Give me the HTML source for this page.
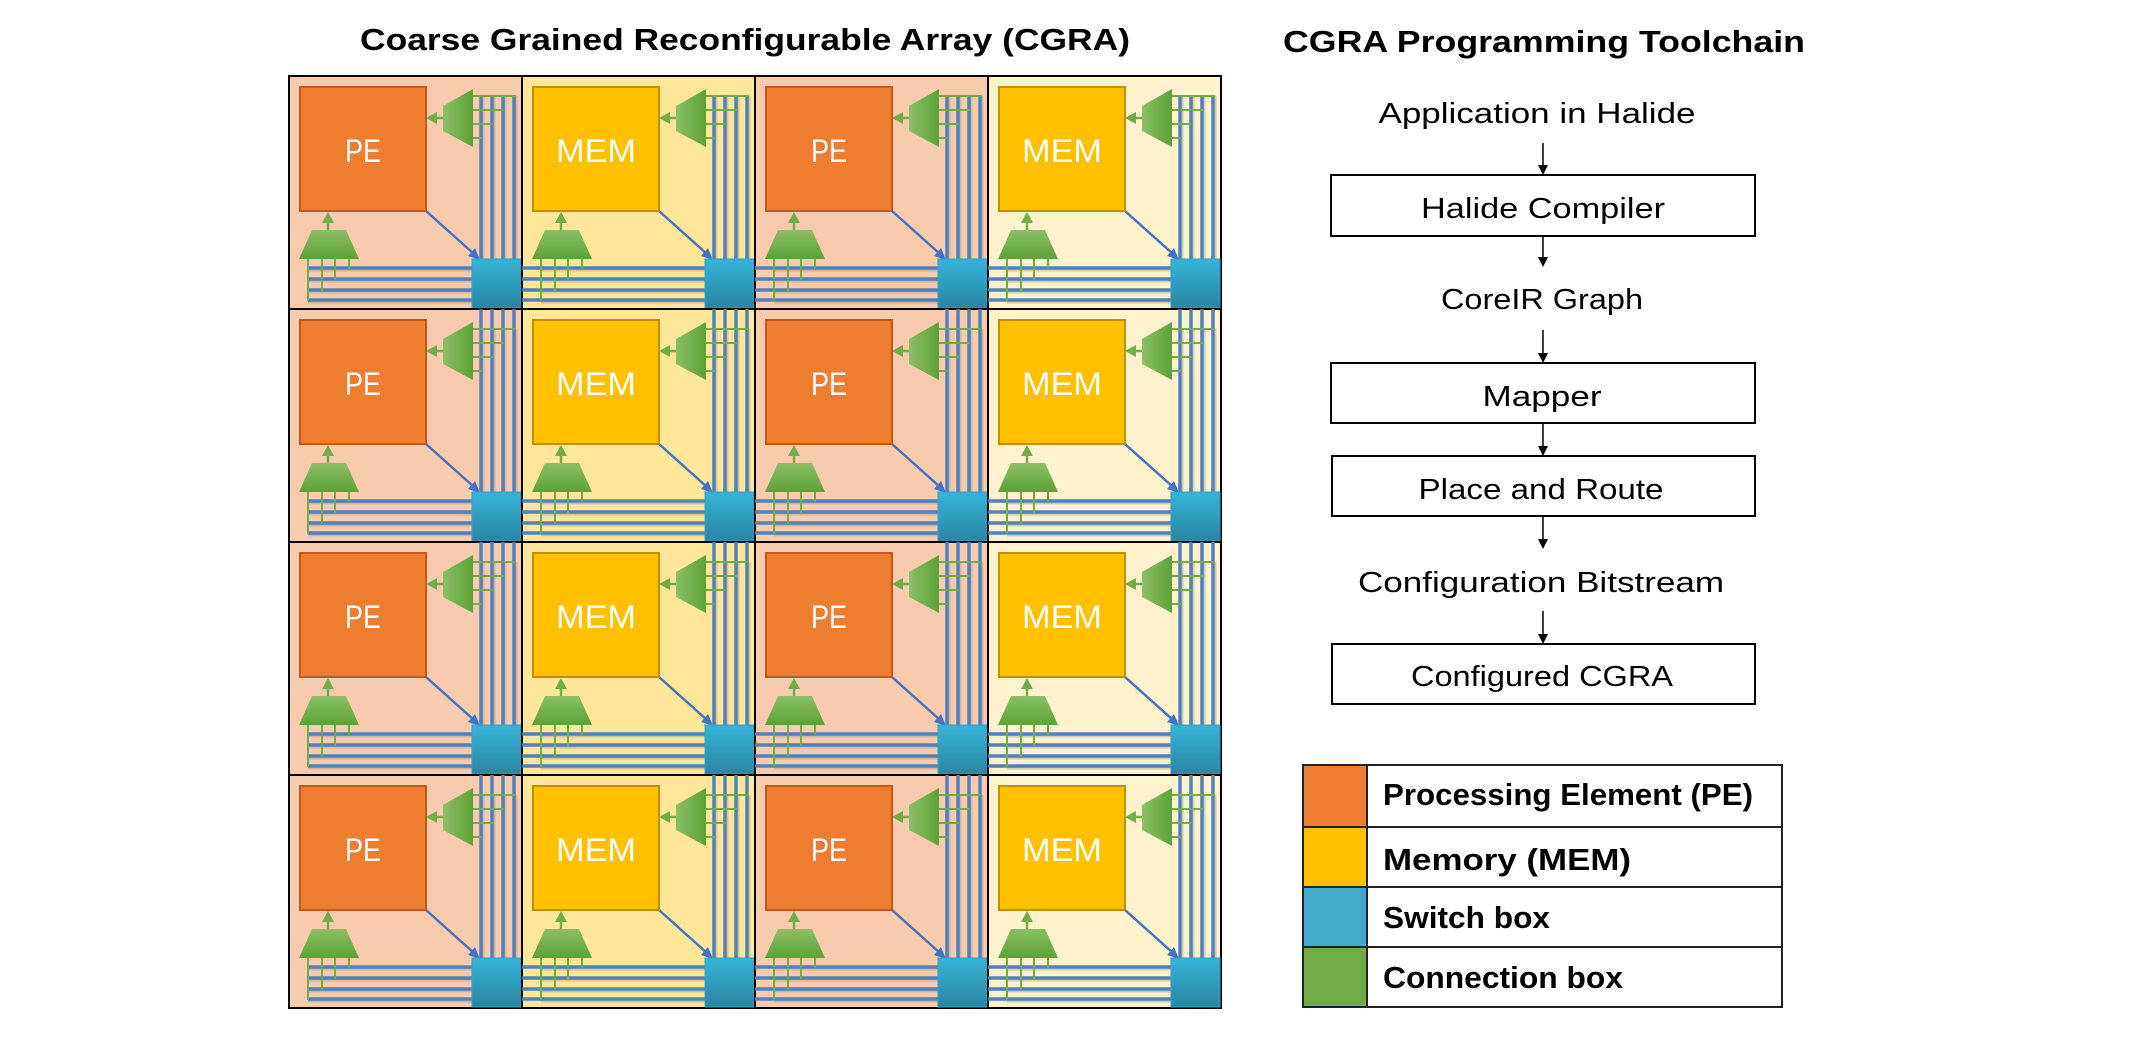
<!DOCTYPE html>
<html><head><meta charset="utf-8"><style>html,body{margin:0;padding:0;background:#fff}svg{display:block}</style></head>
<body>
<svg width="2156" height="1037" viewBox="0 0 2156 1037" xmlns="http://www.w3.org/2000/svg" font-family="Liberation Sans, sans-serif">
<defs>
<linearGradient id="gcb" x1="0" y1="0" x2="1" y2="0"><stop offset="0" stop-color="#8cc065"/><stop offset="1" stop-color="#5da136"/></linearGradient>
<linearGradient id="gcb2" x1="0" y1="0" x2="0" y2="1"><stop offset="0" stop-color="#8cc065"/><stop offset="1" stop-color="#5da136"/></linearGradient>
<linearGradient id="gsb" x1="0" y1="0" x2="0" y2="1"><stop offset="0" stop-color="#37b3d8"/><stop offset="1" stop-color="#2a86a2"/></linearGradient>
<g id="common">
  <g stroke="#a89888" stroke-opacity="0.45" stroke-width="3">
    <line x1="194" y1="20" x2="194" y2="183"/><line x1="205" y1="20" x2="205" y2="183"/><line x1="216" y1="20" x2="216" y2="183"/><line x1="227" y1="20" x2="227" y2="183"/>
    <line x1="19" y1="194" x2="183" y2="194"/><line x1="19" y1="205" x2="183" y2="205"/><line x1="19" y1="216" x2="183" y2="216"/><line x1="19" y1="226" x2="183" y2="226"/>
  </g>
  <g stroke="#4f81bd" stroke-width="3.5">
    <line x1="192" y1="20" x2="192" y2="183"/><line x1="203" y1="20" x2="203" y2="183"/><line x1="214" y1="20" x2="214" y2="183"/><line x1="225" y1="20" x2="225" y2="183"/>
    <line x1="19" y1="192" x2="183" y2="192"/><line x1="19" y1="203" x2="183" y2="203"/><line x1="19" y1="214" x2="183" y2="214"/><line x1="19" y1="224" x2="183" y2="224"/>
  </g>
  <g stroke="#70ad47" stroke-width="2">
    <line x1="184" y1="20" x2="227" y2="20"/><line x1="184" y1="34" x2="215" y2="34"/><line x1="184" y1="48" x2="204" y2="48"/><line x1="184" y1="62" x2="193" y2="62"/>
    <line x1="19" y1="183" x2="19" y2="225"/><line x1="33" y1="183" x2="33" y2="215"/><line x1="46" y1="183" x2="46" y2="204"/><line x1="60" y1="183" x2="60" y2="193"/>
    <line x1="154" y1="42" x2="145" y2="42" stroke-width="2.5"/>
    <line x1="39" y1="154" x2="39" y2="145" stroke-width="2.5"/>
  </g>
  <polygon points="137,42 148,36 148,48" fill="#70ad47"/>
  <polygon points="39,136 33,147 45,147" fill="#70ad47"/>
  <polygon points="154,30 184,13 184,71 154,55" fill="url(#gcb)"/>
  <polygon points="10,183 70,183 57,154 23,154" fill="url(#gcb2)"/>
  <line x1="137" y1="135" x2="185" y2="178" stroke="#4472c4" stroke-width="2.5"/>
  <polygon points="191,184 179,180 186,172" fill="#4472c4"/>
  <rect x="183" y="183" width="49" height="49" fill="url(#gsb)" stroke="#31a2c6" stroke-width="1"/>
</g>
<g id="vext" stroke="#4f81bd" stroke-width="3.5"><line x1="192" y1="0" x2="192" y2="20"/><line x1="203" y1="0" x2="203" y2="20"/><line x1="214" y1="0" x2="214" y2="20"/><line x1="225" y1="0" x2="225" y2="20"/></g>
<g id="hext" stroke="#4f81bd" stroke-width="3.5"><line x1="0" y1="192" x2="19" y2="192"/><line x1="0" y1="203" x2="19" y2="203"/><line x1="0" y1="214" x2="19" y2="214"/><line x1="0" y1="224" x2="19" y2="224"/></g>
<g id="pe"><rect x="11" y="11" width="126" height="124" fill="#ed7d31" stroke="#c05a1e" stroke-width="2"/><text x="74" y="86" font-size="32" fill="#fff" text-anchor="middle" textLength="36" lengthAdjust="spacingAndGlyphs">PE</text></g>
<g id="mem"><rect x="11" y="11" width="126" height="124" fill="#ffc000" stroke="#c09000" stroke-width="2"/><text x="74" y="86" font-size="32" fill="#fff" text-anchor="middle" textLength="80" lengthAdjust="spacingAndGlyphs">MEM</text></g>
</defs>

<!-- Tiles -->
<g id="tiles">
<!-- row 0 -->
<g transform="translate(289,76)"><rect width="233" height="233" fill="#f8cbad" stroke="#000" stroke-width="2"/><use href="#common"/><use href="#pe"/></g>
<g transform="translate(522,76)"><rect width="233" height="233" fill="#ffe699" stroke="#000" stroke-width="2"/><use href="#hext"/><use href="#common"/><use href="#mem"/></g>
<g transform="translate(755,76)"><rect width="233" height="233" fill="#f8cbad" stroke="#000" stroke-width="2"/><use href="#hext"/><use href="#common"/><use href="#pe"/></g>
<g transform="translate(988,76)"><rect width="233" height="233" fill="#fff2cc" stroke="#000" stroke-width="2"/><use href="#hext"/><use href="#common"/><use href="#mem"/></g>
<!-- row 1 -->
<g transform="translate(289,309)"><rect width="233" height="233" fill="#f8cbad" stroke="#000" stroke-width="2"/><use href="#vext"/><use href="#common"/><use href="#pe"/></g>
<g transform="translate(522,309)"><rect width="233" height="233" fill="#ffe699" stroke="#000" stroke-width="2"/><use href="#vext"/><use href="#hext"/><use href="#common"/><use href="#mem"/></g>
<g transform="translate(755,309)"><rect width="233" height="233" fill="#f8cbad" stroke="#000" stroke-width="2"/><use href="#vext"/><use href="#hext"/><use href="#common"/><use href="#pe"/></g>
<g transform="translate(988,309)"><rect width="233" height="233" fill="#fff2cc" stroke="#000" stroke-width="2"/><use href="#vext"/><use href="#hext"/><use href="#common"/><use href="#mem"/></g>
<!-- row 2 -->
<g transform="translate(289,542)"><rect width="233" height="233" fill="#f8cbad" stroke="#000" stroke-width="2"/><use href="#vext"/><use href="#common"/><use href="#pe"/></g>
<g transform="translate(522,542)"><rect width="233" height="233" fill="#ffe699" stroke="#000" stroke-width="2"/><use href="#vext"/><use href="#hext"/><use href="#common"/><use href="#mem"/></g>
<g transform="translate(755,542)"><rect width="233" height="233" fill="#f8cbad" stroke="#000" stroke-width="2"/><use href="#vext"/><use href="#hext"/><use href="#common"/><use href="#pe"/></g>
<g transform="translate(988,542)"><rect width="233" height="233" fill="#fff2cc" stroke="#000" stroke-width="2"/><use href="#vext"/><use href="#hext"/><use href="#common"/><use href="#mem"/></g>
<!-- row 3 -->
<g transform="translate(289,775)"><rect width="233" height="233" fill="#f8cbad" stroke="#000" stroke-width="2"/><use href="#vext"/><use href="#common"/><use href="#pe"/></g>
<g transform="translate(522,775)"><rect width="233" height="233" fill="#ffe699" stroke="#000" stroke-width="2"/><use href="#vext"/><use href="#hext"/><use href="#common"/><use href="#mem"/></g>
<g transform="translate(755,775)"><rect width="233" height="233" fill="#f8cbad" stroke="#000" stroke-width="2"/><use href="#vext"/><use href="#hext"/><use href="#common"/><use href="#pe"/></g>
<g transform="translate(988,775)"><rect width="233" height="233" fill="#fff2cc" stroke="#000" stroke-width="2"/><use href="#vext"/><use href="#hext"/><use href="#common"/><use href="#mem"/></g>
</g>

<!-- Titles -->
<text x="745" y="50" font-size="31" font-weight="bold" text-anchor="middle" textLength="770" lengthAdjust="spacingAndGlyphs">Coarse Grained Reconfigurable Array (CGRA)</text>
<text x="1544" y="52" font-size="31" font-weight="bold" text-anchor="middle" textLength="522" lengthAdjust="spacingAndGlyphs">CGRA Programming Toolchain</text>

<!-- Toolchain -->
<g font-size="29" text-anchor="middle">
<text x="1537" y="123" textLength="317" lengthAdjust="spacingAndGlyphs">Application in Halide</text>
<text x="1543" y="218" textLength="244" lengthAdjust="spacingAndGlyphs">Halide Compiler</text>
<text x="1542" y="309" textLength="202" lengthAdjust="spacingAndGlyphs">CoreIR Graph</text>
<text x="1542" y="406" textLength="119" lengthAdjust="spacingAndGlyphs">Mapper</text>
<text x="1541" y="499" textLength="245" lengthAdjust="spacingAndGlyphs">Place and Route</text>
<text x="1541" y="592" textLength="366" lengthAdjust="spacingAndGlyphs">Configuration Bitstream</text>
<text x="1542" y="686" textLength="262" lengthAdjust="spacingAndGlyphs">Configured CGRA</text>
</g>
<g fill="none" stroke="#000" stroke-width="2">
<rect x="1331" y="175" width="424" height="61"/>
<rect x="1331" y="363" width="424" height="60"/>
<rect x="1332" y="456" width="423" height="60"/>
<rect x="1332" y="644" width="423" height="60"/>
</g>
<g stroke="#000" stroke-width="1.5">
<line x1="1543" y1="143" x2="1543" y2="168"/>
<line x1="1543" y1="236" x2="1543" y2="260"/>
<line x1="1543" y1="330" x2="1543" y2="356"/>
<line x1="1543" y1="423" x2="1543" y2="449"/>
<line x1="1543" y1="516" x2="1543" y2="542"/>
<line x1="1543" y1="611" x2="1543" y2="637"/>
</g>
<g fill="#000">
<polygon points="1543,175 1538,165 1548,165"/>
<polygon points="1543,267 1538,257 1548,257"/>
<polygon points="1543,363 1538,353 1548,353"/>
<polygon points="1543,456 1538,446 1548,446"/>
<polygon points="1543,549 1538,539 1548,539"/>
<polygon points="1543,644 1538,634 1548,634"/>
</g>

<!-- Legend -->
<rect x="1303" y="765" width="64" height="62" fill="#ed7d31"/>
<rect x="1303" y="827" width="64" height="60" fill="#ffc000"/>
<rect x="1303" y="887" width="64" height="60" fill="#42abcb"/>
<rect x="1303" y="947" width="64" height="60" fill="#70ad47"/>
<g fill="none" stroke="#222" stroke-width="2">
<rect x="1303" y="765" width="479" height="242"/>
<line x1="1367" y1="765" x2="1367" y2="1007"/>
<line x1="1303" y1="827" x2="1782" y2="827"/>
<line x1="1303" y1="887" x2="1782" y2="887"/>
<line x1="1303" y1="947" x2="1782" y2="947"/>
</g>
<g font-size="31" font-weight="bold">
<text x="1383" y="805" textLength="370" lengthAdjust="spacingAndGlyphs">Processing Element (PE)</text>
<text x="1383" y="870" textLength="248" lengthAdjust="spacingAndGlyphs">Memory (MEM)</text>
<text x="1383" y="928" textLength="167" lengthAdjust="spacingAndGlyphs">Switch box</text>
<text x="1383" y="988" textLength="240" lengthAdjust="spacingAndGlyphs">Connection box</text>
</g>
</svg>
</body></html>
